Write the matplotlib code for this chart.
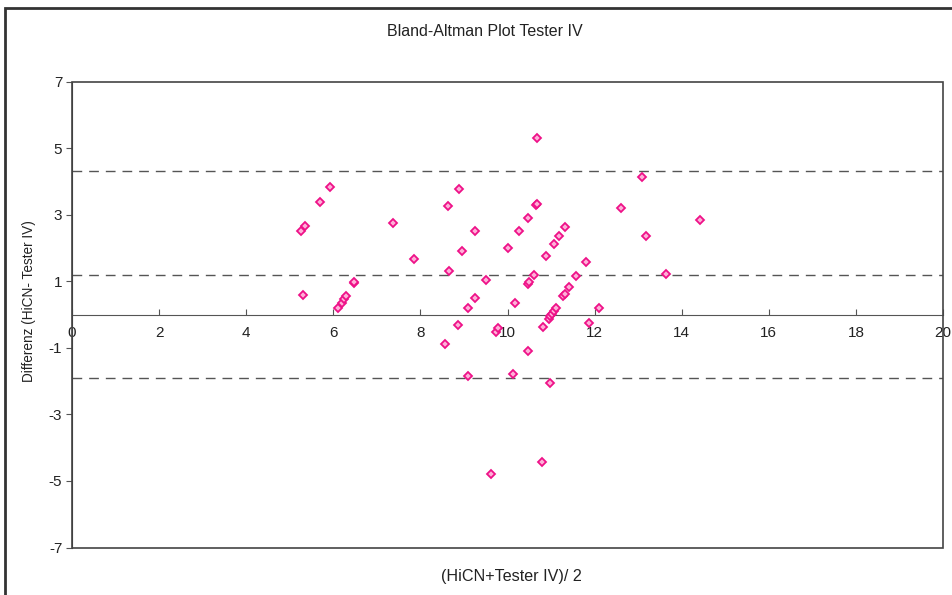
import matplotlib
matplotlib.use("Agg")
import matplotlib.pyplot as plt
from matplotlib.patches import Rectangle

plt.rcParams['font.family'] = ['Liberation Sans', 'DejaVu Sans']
plt.rcParams['axes.unicode_minus'] = False

# mean of the two methods
mean_values = [5.92, 5.70, 5.35, 5.26, 5.30, 6.10, 6.19, 6.24, 6.28, 6.47,
               6.48, 7.38, 7.85, 8.56, 8.64, 8.66, 8.86, 8.89, 8.96, 9.09,
               9.10, 9.26, 9.26, 9.51, 9.62, 9.74, 9.79, 10.00, 10.12, 10.18,
               10.26, 10.46, 10.46, 10.50, 10.46, 10.60, 10.65, 10.67, 10.67, 10.80,
               10.82, 10.88, 10.95, 10.98, 10.98, 11.02, 11.06, 11.06, 11.11, 11.18,
               11.28, 11.33, 11.33, 11.42, 11.58, 11.80, 11.88, 12.10, 12.60, 13.08,
               13.18, 13.63, 14.41]
# difference HiCN - Tester IV
diff_values = [3.82, 3.39, 2.67, 2.51, 0.59, 0.19, 0.35, 0.47, 0.56, 0.95,
               0.98, 2.75, 1.67, -0.90, 3.27, 1.31, -0.30, 3.78, 1.91, -1.86,
               0.19, 2.51, 0.51, 1.03, -4.78, -0.53, -0.41, 1.99, -1.78, 0.35,
               2.51, 2.91, 0.91, 0.99, -1.10, 1.19, 3.29, 3.32, 5.31, -4.42,
               -0.38, 1.75, -0.14, -0.05, -2.06, 0.02, 0.11, 2.11, 0.19, 2.35,
               0.55, 0.62, 2.63, 0.83, 1.15, 1.59, -0.26, 0.19, 3.19, 4.14,
               2.35, 1.23, 2.83]

mean_diff = 1.20
upper_limit = 4.31
lower_limit = -1.91

x_ticks = [0, 2, 4, 6, 8, 10, 12, 14, 16, 18, 20]
y_ticks = [-7, -5, -3, -1, 1, 3, 5, 7]

fig = plt.figure(figsize=(9.53, 5.95), dpi=100)
ax = fig.add_axes([0.0756, 0.0798, 0.9139, 0.7832])

line_color = '#555555'
for val in [upper_limit, mean_diff, lower_limit]:
    ax.axhline(val, color=line_color, lw=1.0, ls=(0, (7, 5)), zorder=1)

ax.plot(mean_values, diff_values, ls='none', marker='D', markersize=3.6,
        markerfacecolor='#ffb0d8', markeredgecolor='#ee1188', markeredgewidth=1.3, zorder=3)

ax.set_xlim(0, 20)
ax.set_ylim(-7, 7)
ax.set_xticks(x_ticks)
ax.set_yticks(y_ticks)

# x axis crosses at zero, plot area keeps a full border
ax.spines['bottom'].set_position(('data', 0))
for side in ['top', 'right']:
    ax.spines[side].set_visible(False)
ax.spines['bottom'].set_color(line_color)
ax.spines['left'].set_color('#333333')
ax.add_patch(Rectangle((0, 0), 1, 1, transform=ax.transAxes, fill=False,
                       edgecolor='#444444', lw=1.2, zorder=4, clip_on=False))

ax.tick_params(axis='x', direction='in', length=4, color=line_color,
               labelsize=11, labelcolor='#222222', pad=8)
ax.tick_params(axis='y', direction='out', length=4, color=line_color,
               labelsize=11, labelcolor='#222222', pad=3)

ax.set_ylabel('Differenz (HiCN- Tester IV)', fontsize=9.8, color='#222222')
ax.yaxis.set_label_coords(-0.041, 0.529)
fig.text(511 / 953, 1 - 576 / 595, '(HiCN+Tester IV)/ 2', ha='center', va='center',
         fontsize=11.6, color='#222222')
fig.text(485 / 953, 1 - 32 / 595, 'Bland-Altman Plot Tester IV', ha='center', va='center',
         fontsize=11.5, color='#222222')

# chart frame, runs off the right and bottom of the image
fig.patches.append(Rectangle((5 / 953, -0.05), 1.0, 1 - 7.5 / 595 + 0.05,
                             transform=fig.transFigure, fill=False,
                             edgecolor='#333333', lw=2))

fig.savefig('out.png', dpi=100)
plt.close(fig)
